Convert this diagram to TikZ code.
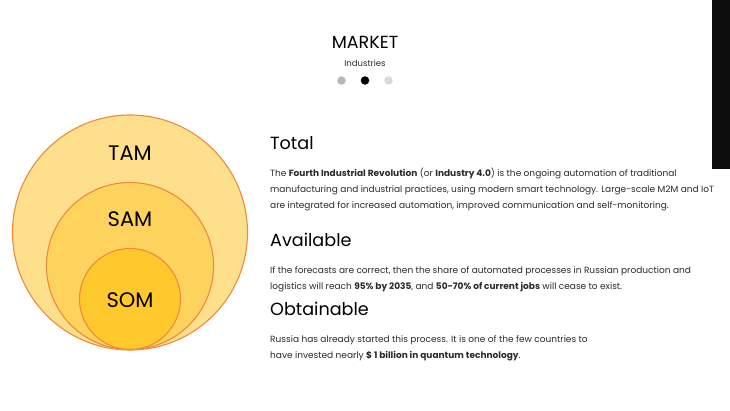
\documentclass[tikz,border=0pt]{standalone}
\usepackage{fontspec}
\setmainfont{Poppins}
\usetikzlibrary{positioning}

\definecolor{ringline}{HTML}{EF8A3C}
\definecolor{tamfill}{HTML}{FEE08C}
\definecolor{samfill}{HTML}{FDD35E}
\definecolor{somfill}{HTML}{FFC82C}
\definecolor{bodytext}{HTML}{2A2A2A}

\begin{document}
\begin{tikzpicture}[x=1pt,y=-1pt,
  ring/.style={circle,draw=ringline,line width=1.1pt,inner sep=0pt},
  ringlabel/.style={anchor=base,font=\fontsize{21}{21}\selectfont},
  head/.style={anchor=base west,inner sep=0pt,font=\fontsize{17.6}{17.6}\selectfont},
  body/.style={anchor=base west,inner sep=0pt,text=bodytext,font=\fontsize{9}{10}\selectfont},
  dot/.style={circle,inner sep=0pt,minimum size=8.5pt}]
	\useasboundingbox (0,0) rectangle (730,411);
	% title
	\node[anchor=base,font=\fontsize{17.5}{17.5}\selectfont] (title) at (365,48.3) {MARKET};
	\node[anchor=base,text=bodytext,font=\fontsize{8.5}{10}\selectfont] (sub) at (365,66.5) {Industries};
	\node[dot,fill=black!28] (dotl) at (341.5,80.5) {};
	\node[dot,fill=black] (dotm) at (365,80.5) {};
	\node[dot,fill=black!15] (dotr) at (388.5,80.5) {};
	% side bar
	\fill[black!95] (712,0) rectangle (730,169);
	% circles
	\node[ring,fill=tamfill,minimum size=235pt] (tam) at (130,232.5) {};
	\node[ring,fill=samfill,minimum size=167pt] (sam) at (130,266) {};
	\node[ring,fill=somfill,minimum size=101pt] (som) at (130,299) {};
	\node[ringlabel] (tamtxt) at (130,160.7) {TAM};
	\node[ringlabel] (samtxt) at (130,226.7) {SAM};
	\node[ringlabel] (somtxt) at (130,307.7) {SOM};
	% total
	\node[head] (total) at (270,149.5) {Total};
	\node[body] (t1) at (270,176.5) {The \textbf{Fourth Industrial Revolution} (or \textbf{Industry 4.0}) is the ongoing automation of traditional};
	\node[body] (t2) at (270,192.5) {manufacturing and industrial practices, using modern smart technology. Large-scale M2M and IoT};
	\node[body] (t3) at (270,208.5) {are integrated for increased automation, improved communication and self-monitoring.};
	% available
	\node[head] (avail) at (270,246.5) {Available};
	\node[body] (a1) at (270,273.5) {If the forecasts are correct, then the share of automated processes in Russian production and};
	\node[body] (a2) at (270,290) {logistics will reach \textbf{95\% by 2035}, and \textbf{50-70\% of current jobs} will cease to exist.};
	% obtainable
	\node[head] (obtain) at (270,316) {Obtainable};
	\node[body] (o1) at (270,342) {Russia has already started this process. It is one of the few countries to};
	\node[body] (o2) at (270,358.5) {have invested nearly \textbf{\$ 1 billion in quantum technology}.};
\end{tikzpicture}
\end{document}
